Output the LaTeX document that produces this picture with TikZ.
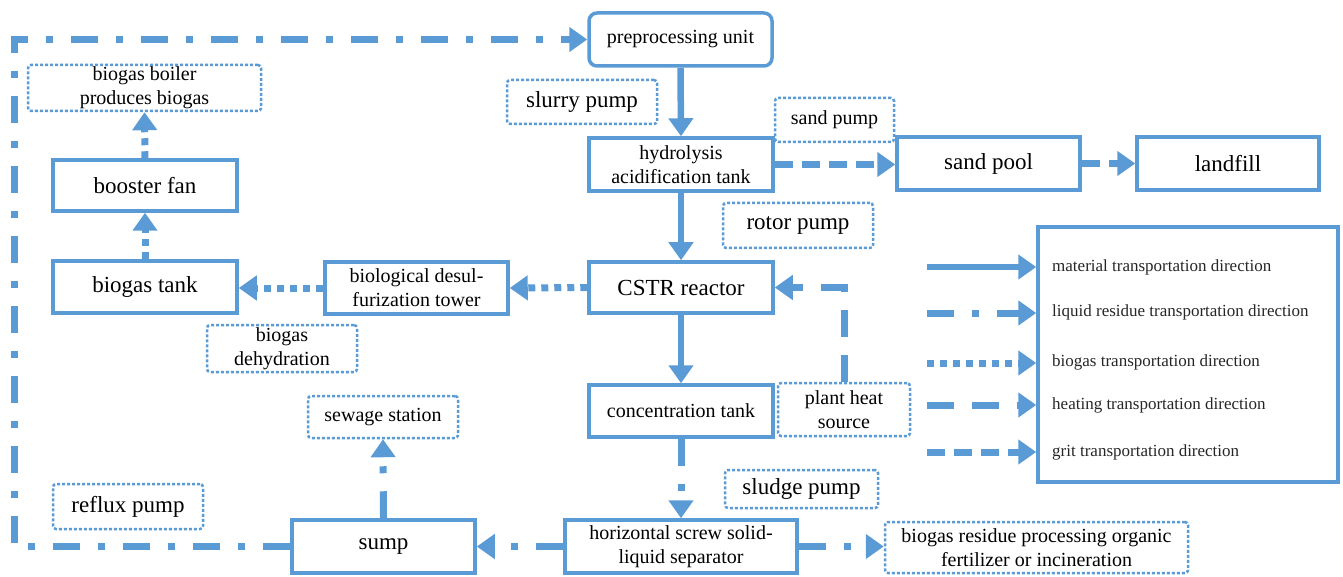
\documentclass[tikz,border=0pt]{standalone}
\usepackage{fontspec}
\setmainfont{Liberation Serif}
\usetikzlibrary{arrows.meta}
\definecolor{flowblue}{RGB}{91,155,213}
\begin{document}
\begin{tikzpicture}[x=1pt,y=-1pt,
  box/.style={draw=flowblue,line width=3.5pt,fill=white,inner sep=0pt,align=center,
    font=\fontsize{20}{24}\selectfont},
  bigtext/.style={font=\fontsize{23}{27}\selectfont},
  note/.style={draw=flowblue,line width=2.5pt,dash pattern=on 3pt off 2pt,rounded corners=3pt,
    fill=white,inner sep=0pt,align=center,font=\fontsize{20}{24}\selectfont},
  tip/.style={-{Triangle[width=24pt,length=18pt]}},
  material/.style={draw=flowblue,line width=6.5pt,tip},
  liquid/.style={draw=flowblue,line width=7pt,dash pattern=on 27pt off 18pt on 7pt off 18pt,tip},
  biogas/.style={draw=flowblue,line width=7pt,dash pattern=on 7pt off 6pt,tip},
  heating/.style={draw=flowblue,line width=7pt,dash pattern=on 27pt off 18pt,tip},
  grit/.style={draw=flowblue,line width=7pt,dash pattern=on 18pt off 9pt,tip},
  legtext/.style={anchor=west,inner sep=0pt,text=black!85,font=\fontsize{17}{20}\selectfont}
]
\useasboundingbox (0,0) rectangle (1343,577);

% main process boxes
\node[box,rounded corners=8pt,minimum width=183pt,minimum height=53pt] (pre) at (680.5,39.5) {preprocessing unit};
\node[box,minimum width=184pt,minimum height=53pt] (hydro) at (681,164.5) {hydrolysis\\acidification tank};
\node[box,bigtext,minimum width=183pt,minimum height=53pt] (sandpool) at (988.5,163.5) {sand pool};
\node[box,bigtext,minimum width=182pt,minimum height=53pt] (landfill) at (1228,163.5) {landfill};
\node[box,bigtext,minimum width=184pt,minimum height=51pt] (cstr) at (681,287.5) {CSTR reactor};
\node[box,minimum width=183pt,minimum height=52pt] (desulf) at (416.5,288) {biological desul-\\furization tower};
\node[box,bigtext,minimum width=184pt,minimum height=52pt] (tank) at (145,287) {biogas tank};
\node[box,bigtext,minimum width=184pt,minimum height=51pt] (fan) at (145,185.5) {booster fan};
\node[box,minimum width=184pt,minimum height=52pt] (conc) at (681,411) {concentration tank};
\node[box,bigtext,minimum width=183pt,minimum height=53pt] (sump) at (383.5,546.5) {sump};
\node[box,minimum width=232pt,minimum height=53pt] (sep) at (681,546.5) {horizontal screw solid-\\liquid separator};

% equipment and destination notes
\node[note,bigtext,minimum width=150pt,minimum height=44pt] (slurry) at (582,102) {slurry pump};
\node[note,minimum width=119pt,minimum height=44pt] (sandpump) at (834.5,120) {sand pump};
\node[note,bigtext,minimum width=150pt,minimum height=45pt] (rotor) at (798,225.5) {rotor pump};
\node[note,minimum width=233pt,minimum height=46pt] (boiler) at (144.5,88) {biogas boiler\\produces biogas};
\node[note,minimum width=150pt,minimum height=47pt] (dehyd) at (282,348.5) {biogas\\dehydration};
\node[note,minimum width=150pt,minimum height=42pt] (sewage) at (383,417) {sewage station};
\node[note,bigtext,minimum width=150pt,minimum height=45pt] (reflux) at (128,506.5) {reflux pump};
\node[note,minimum width=132pt,minimum height=53pt] (heat) at (844,409.5) {plant heat\\source};
\node[note,bigtext,minimum width=153pt,minimum height=38pt] (sludge) at (801.5,489) {sludge pump};
\node[note,minimum width=303pt,minimum height=51pt] (residue) at (1036.5,547.5) {biogas residue processing organic\\fertilizer or incineration};

% material flow
\draw[material] (pre.south) -- (hydro.north);
\draw[material] (hydro.south) -- (cstr.north);
\draw[material] (cstr.south) -- (conc.north);

% liquid residue flow
\draw[liquid] (conc.south) -- (sep.north);
\draw[liquid] (sep.west) -- (sump.east);
\draw[liquid] (sep.east) -- (residue.west |- sep.east);
\draw[liquid] (sump.north) -- (sewage.south);
\coordinate (loopB) at (14,546.5);
\coordinate (loopT) at (14,39.5);
\draw[liquid,line join=miter] (sump.west) -- (loopB) -- (loopT) -- (pre.west);

% biogas flow
\draw[biogas] (cstr.west) -- (desulf.east);
\draw[biogas] (desulf.west) -- (tank.east |- desulf.west);
\draw[biogas] (tank.north) -- (fan.south);
\draw[biogas] (fan.north) -- (boiler.south);

% heating flow
\draw[heating,line join=miter] (heat.north) -- (heat.north |- cstr.east) -- (cstr.east);

% grit flow
\draw[grit] (hydro.east) -- (hydro.east -| sandpool.west);
\draw[grit] (sandpool.east) -- (landfill.west);

% legend
\node[draw=flowblue,line width=3.5pt,minimum width=300pt,minimum height=255pt,inner sep=0pt] (legend) at (1188,354.5) {};
\coordinate (lg1) at (927,267);
\coordinate (lg2) at (927,313);
\coordinate (lg3) at (927,363);
\coordinate (lg4) at (927,405);
\coordinate (lg5) at (927,452);
\draw[material] (lg1) -- (lg1 -| legend.west);
\draw[liquid] (lg2) -- (lg2 -| legend.west);
\draw[biogas] (lg3) -- (lg3 -| legend.west);
\draw[heating] (lg4) -- (lg4 -| legend.west);
\draw[grit] (lg5) -- (lg5 -| legend.west);
\node[legtext] (lt1) at (1052,267) {material transportation direction};
\node[legtext] (lt2) at (1052,312) {liquid residue transportation direction};
\node[legtext] (lt3) at (1052,362) {biogas transportation direction};
\node[legtext] (lt4) at (1052,405) {heating transportation direction};
\node[legtext] (lt5) at (1052,452) {grit transportation direction};
\end{tikzpicture}
\end{document}
